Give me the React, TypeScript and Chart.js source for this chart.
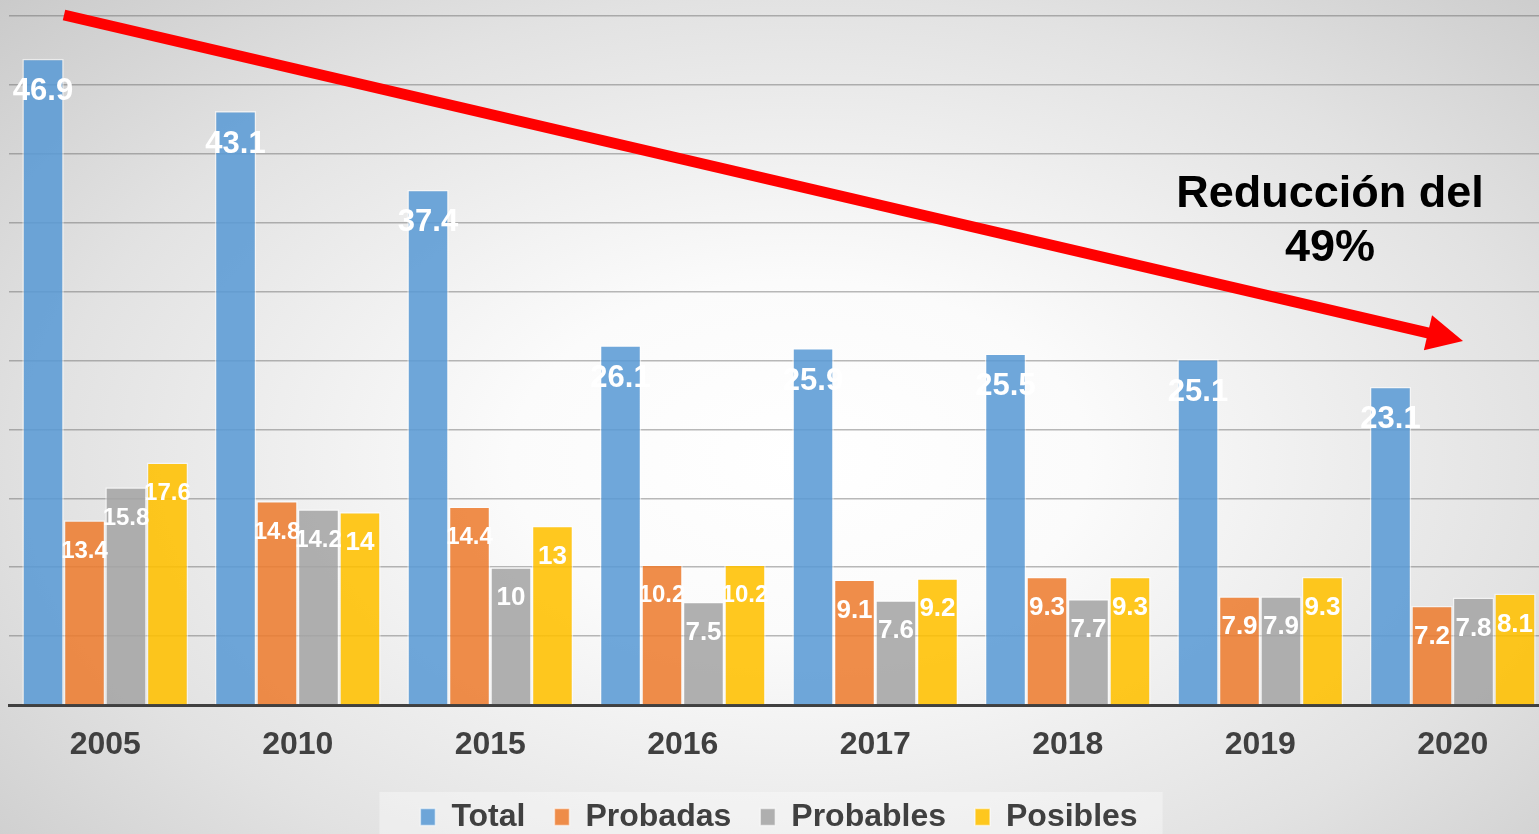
import React, { useEffect, useRef } from "react";
import { Chart, registerables } from "chart.js";

Chart.register(...registerables);

const categories = ["2005", "2010", "2015", "2016", "2017", "2018", "2019", "2020"];
const seriesNames = ["Total", "Probadas", "Probables", "Posibles"];
const totalValues = [46.9, 43.1, 37.4, 26.1, 25.9, 25.5, 25.1, 23.1];
const probadasValues = [13.4, 14.8, 14.4, 10.2, 9.1, 9.3, 7.9, 7.2];
const probablesValues = [15.8, 14.2, 10, 7.5, 7.6, 7.7, 7.9, 7.8];
const posiblesValues = [17.6, 14, 13, 10.2, 9.2, 9.3, 9.3, 8.1];
const seriesColors = [
  "rgba(91,155,213,0.88)",
  "rgba(237,125,49,0.88)",
  "rgba(165,165,165,0.88)",
  "rgba(255,192,0,0.88)",
];
const yMax = 50;
const yStep = 5;
const annotationLines = ["Reducción del", "49%"];

const FONT = "'Liberation Sans', Arial, Helvetica, sans-serif";

const legendBgPlugin = {
  id: "legendBg",
  beforeDraw(chart: any) {
    const lg = chart.legend;
    if (!lg || !lg.legendHitBoxes || !lg.legendHitBoxes.length) return;
    const boxes = lg.legendHitBoxes;
    let l = Infinity, r = -Infinity, t = Infinity;
    boxes.forEach((b: any) => {
      l = Math.min(l, b.left);
      r = Math.max(r, b.left + b.width);
      t = Math.min(t, b.top);
    });
    const ctx = chart.ctx;
    ctx.save();
    ctx.fillStyle = "rgba(255,255,255,0.35)";
    ctx.fillRect(l - 41, t - 9, r - l + 66, chart.height - t + 9);
    ctx.restore();
  },
};

const valueLabelPlugin = {
  id: "valueLabels",
  afterDatasetsDraw(chart: any) {
    const ctx = chart.ctx;
    ctx.save();
    ctx.fillStyle = "#ffffff";
    ctx.textAlign = "center";
    ctx.textBaseline = "middle";
    chart.data.datasets.forEach((ds: any, di: number) => {
      const meta = chart.getDatasetMeta(di);
      meta.data.forEach((bar: any, i: number) => {
        const text = String(ds.data[i]);
        let size: number;
        let off: number;
        if (di === 0) {
          size = 31;
          off = 33;
        } else {
          size = text.length >= 4 ? 24 : 26;
          off = 31;
        }
        ctx.font = `bold ${size}px ${FONT}`;
        ctx.fillText(text, bar.x, bar.y + off);
      });
    });
    ctx.restore();
  },
};

const arrowPlugin = {
  id: "arrowNote",
  afterDraw(chart: any) {
    const ctx = chart.ctx;
    const a = chart.chartArea;
    const x0 = a.left + 55;
    const y0 = a.top - 1;
    const tipX = a.left + 1454;
    const tipY = a.top + 325;
    const dx = tipX - x0;
    const dy = tipY - y0;
    const len = Math.sqrt(dx * dx + dy * dy);
    const ux = dx / len;
    const uy = dy / len;
    const headLen = 36;
    const headHalf = 18;
    const bx = tipX - ux * headLen;
    const by = tipY - uy * headLen;
    ctx.save();
    ctx.strokeStyle = "#ff0000";
    ctx.fillStyle = "#ff0000";
    ctx.lineWidth = 11;
    ctx.lineCap = "butt";
    ctx.beginPath();
    ctx.moveTo(x0, y0);
    ctx.lineTo(bx + ux * 2, by + uy * 2);
    ctx.stroke();
    ctx.beginPath();
    ctx.moveTo(tipX, tipY);
    ctx.lineTo(bx - uy * headHalf, by + ux * headHalf);
    ctx.lineTo(bx + uy * headHalf, by - ux * headHalf);
    ctx.closePath();
    ctx.fill();

    ctx.fillStyle = "#000000";
    ctx.font = `bold 45px ${FONT}`;
    ctx.textAlign = "center";
    ctx.textBaseline = "alphabetic";
    const cx = a.left + 1321;
    ctx.fillText(annotationLines[0], cx, a.top + 191);
    ctx.fillText(annotationLines[1], cx, a.top + 245);
    ctx.restore();
  },
};

export default function App() {
  const ref = useRef<HTMLCanvasElement | null>(null);

  useEffect(() => {
    if (!ref.current) return;
    const values = [totalValues, probadasValues, probablesValues, posiblesValues];
    const chart = new Chart(ref.current, {
      type: "bar",
      data: {
        labels: categories,
        datasets: seriesNames.map((name, i) => ({
          label: name,
          data: values[i],
          backgroundColor: seriesColors[i],
          borderColor: "rgba(255,255,255,0.55)",
          borderWidth: 1.5,
          categoryPercentage: 0.862,
          barPercentage: 1.0,
        })),
      },
      options: {
        responsive: false,
        animation: false,
        devicePixelRatio: 1,
        layout: { padding: { left: 9, right: 11, top: 16, bottom: 0 } },
        plugins: {
          legend: {
            position: "bottom",
            labels: {
              font: { family: FONT, size: 32, weight: "bold" },
              color: "#404040",
              boxWidth: 15,
              boxHeight: 17,
              padding: 29,
            },
          },
          tooltip: { enabled: false },
        },
        scales: {
          x: {
            grid: { display: false, drawTicks: false },
            border: { display: true, color: "#404040", width: 3 },
            ticks: {
              font: { family: FONT, size: 32, weight: "bold" },
              color: "#404040",
              padding: 21,
            },
            afterFit: (scale: any) => {
              scale.height = 67;
            },
          },
          y: {
            min: 0,
            max: yMax,
            ticks: { display: false, stepSize: yStep },
            grid: { color: "rgba(100,100,100,0.45)", lineWidth: 1.5, drawTicks: false },
            border: { display: false },
          },
        },
      },
      plugins: [legendBgPlugin, valueLabelPlugin, arrowPlugin],
    });
    return () => chart.destroy();
  }, []);

  return (
    <div
      style={{
        position: "fixed",
        left: 0,
        top: 0,
        width: 1539,
        height: 834,
        overflow: "hidden",
        background:
          "radial-gradient(ellipse 75% 85% at 52% 55%, #ffffff 0%, #fbfbfb 25%, #e2e2e2 65%, #c6c6c6 100%)",
      }}
    >
      <canvas ref={ref} width={1560} height={843} style={{ display: "block" }} />
    </div>
  );
}
